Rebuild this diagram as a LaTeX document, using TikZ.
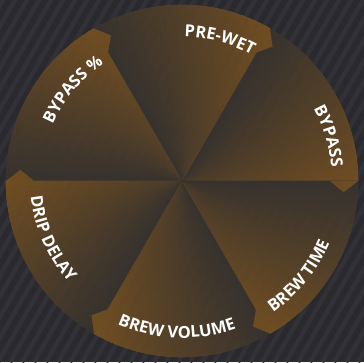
\documentclass[tikz,border=0pt]{standalone}
\usepackage{fontspec}
\setmainfont{Open Sans}
\usepackage{xcolor}
\usetikzlibrary{decorations.text,fadings}
\definecolor{bgdark}{HTML}{29292E}
\definecolor{stripecol}{HTML}{313137}
\definecolor{brewamber}{HTML}{8C5B1D}
\definecolor{brewshade}{HTML}{37332F}
\newcommand{\dialR}{176}
\newcommand{\rimfont}{\fontsize{16.5}{18}\selectfont\bfseries\color{white}}
\tikzfading[name=hubfade, inner color=transparent!30, outer color=transparent!100]

\begin{document}
\begin{tikzpicture}[x=1pt,y=1pt,
  wedge/.style={line width=0.6pt,line join=round},
  notch/.style={fill=brewamber},
  stripe/.style={stripecol,line width=4.5pt},
  rimtext/.style={decorate,decoration={text along path,text align=center,text={|\rimfont|#1}}}]
  \useasboundingbox (-182,-181) rectangle (182,181);
  \fill[bgdark] (-182,-181) rectangle (182,181);
  \begin{scope}
    \clip (-182,-181) rectangle (182,181);
    \foreach \s in {-400,-388,...,200}
      \draw[stripe] (\s,-181) -- ++(60:420);
  \end{scope}

  % six pie sectors, bright at the clockwise edge
  \begin{scope}[transparency group,opacity=0.93]
    \foreach \a in {0,60,...,300}{
      \foreach \j in {0,...,29}{
        \pgfmathtruncatemacro\p{100-100*\j/30}
        \filldraw[wedge,brewamber!\p!brewshade] (0,0) -- ({\a+2*\j}:\dialR)
          arc[start angle=\a+2*\j, end angle=\a+2*\j+2, radius=\dialR] -- cycle;
      }
    }
    \foreach \a in {0,60,...,300}
      \fill[notch] (\a:{\dialR-28}) -- ({\a-4}:{\dialR-14}) -- (\a:\dialR) -- cycle;
    \begin{scope}
      \clip (0,0) circle (\dialR);
      \fill[brewshade,path fading=hubfade] (0,0) circle ({1.6*\dialR});
    \end{scope}
  \end{scope}

  % labels round the rim
  \path[rimtext={PRE-WET}] (105:144) arc[start angle=105, end angle=45, radius=144];
  \path[rimtext={BYPASS {\%}}] (170:141) arc[start angle=170, end angle=110, radius=141];
  \path[rimtext={BYPASS}] (47:150) arc[start angle=47, end angle=-13, radius=150];
  \path[rimtext={BREW TIME}] (-69:160) arc[start angle=-69, end angle=-9, radius=160];
  \path[rimtext={BREW VOLUME}] (238:157) arc[start angle=238, end angle=298, radius=157];
  \path[rimtext={DRIP DELAY}] (174:152) arc[start angle=174, end angle=234, radius=152];
\end{tikzpicture}
\end{document}
